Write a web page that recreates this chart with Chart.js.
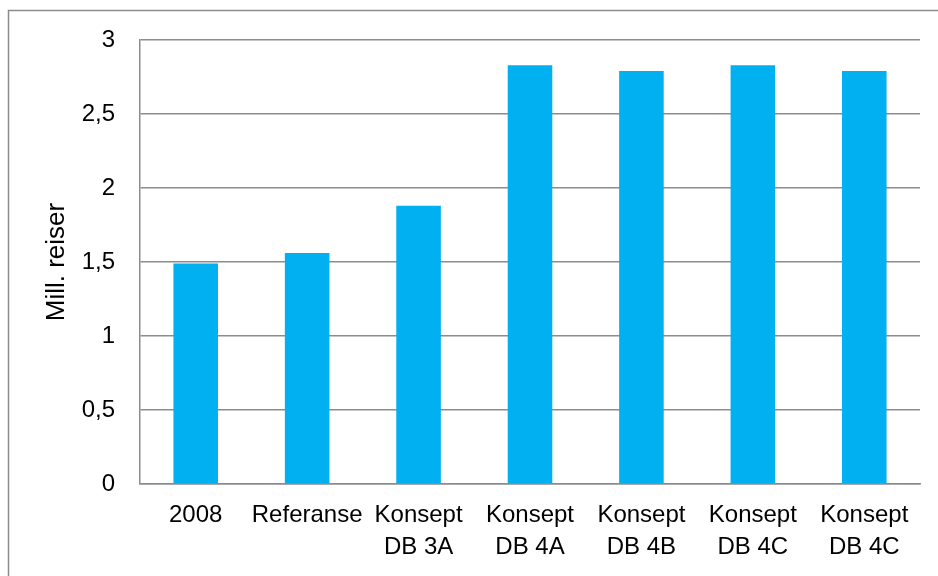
<!DOCTYPE html>
<html>
<head>
<meta charset="utf-8">
<script src="https://cdn.jsdelivr.net/npm/chart.js@4"></script>
<style>
  html, body { margin: 0; padding: 0; background: #ffffff; }
  #wrap { width: 938px; height: 576px; }
</style>
</head>
<body>
<div id="wrap"><canvas id="c" width="938" height="576"></canvas></div>
<script>
const categories = [
  ['2008'],
  ['Referanse'],
  ['Konsept', 'DB 3A'],
  ['Konsept', 'DB 4A'],
  ['Konsept', 'DB 4B'],
  ['Konsept', 'DB 4C'],
  ['Konsept', 'DB 4C']
];
const reiser = [1.49, 1.56, 1.88, 2.83, 2.79, 2.83, 2.79];
const yAxisTitle = 'Mill. reiser';
const yMin = 0, yMax = 3, yStep = 0.5;

const GRID = '#8c8c8c';
const FONT = "'Liberation Sans', Arial, sans-serif";

const frame = {
  id: 'frame',
  beforeDraw(chart) {
    const ctx = chart.ctx;
    ctx.save();
    ctx.fillStyle = '#ffffff';
    ctx.fillRect(0, 0, chart.width, chart.height);
    ctx.strokeStyle = GRID;
    ctx.lineWidth = 1.5;
    ctx.strokeRect(8.5, 10.5, chart.width + 20, chart.height + 20);
    ctx.restore();
  }
};

new Chart(document.getElementById('c'), {
  type: 'bar',
  data: {
    labels: categories,
    datasets: [{
      data: reiser,
      backgroundColor: '#00B0F0',
      borderWidth: 0,
      barPercentage: 0.4,
      categoryPercentage: 1.0
    }]
  },
  options: {
    responsive: false,
    animation: false,
    devicePixelRatio: 1,
    layout: { padding: { left: 0, top: 40, right: 18, bottom: 0 } },
    plugins: { legend: { display: false }, tooltip: { enabled: false } },
    scales: {
      x: {
        grid: { display: false, drawTicks: false },
        border: { display: true, color: GRID, width: 1.5 },
        ticks: {
          color: '#000000',
          font: { family: FONT, size: 24, lineHeight: 1.333 },
          padding: 15,
          maxRotation: 0,
          autoSkip: false
        },
        afterFit(scale) { scale.height = 92; }
      },
      y: {
        min: yMin,
        max: yMax,
        grid: { color: GRID, lineWidth: 1.5, drawTicks: false },
        border: { display: true, color: GRID, width: 1.5 },
        ticks: {
          stepSize: yStep,
          color: '#000000',
          font: { family: FONT, size: 24 },
          padding: 25,
          callback: (v) => String(v).replace('.', ',')
        },
        title: {
          display: true,
          text: yAxisTitle,
          color: '#000000',
          font: { family: FONT, size: 26 },
          padding: { top: 41, bottom: 0 }
        },
        afterFit(scale) { scale.width = 140; }
      }
    }
  },
  plugins: [frame]
});
</script>
</body>
</html>
